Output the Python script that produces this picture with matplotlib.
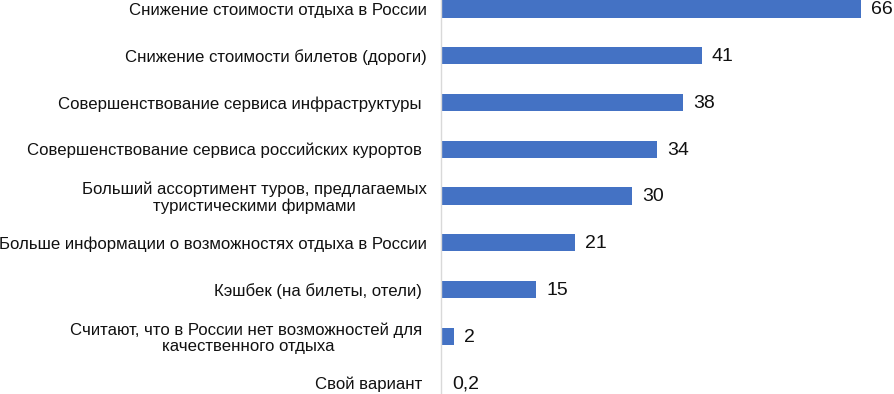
import matplotlib
matplotlib.use("Agg")
import matplotlib.pyplot as plt

plt.rcParams['font.family'] = ['Liberation Sans', 'DejaVu Sans']

categories = [
    "Снижение стоимости отдыха в России",
    "Снижение стоимости билетов (дороги)",
    "Совершенствование сервиса инфраструктуры ",
    "Совершенствование сервиса российских курортов ",
    "Больший ассортимент туров, предлагаемых\nтуристическими фирмами",
    "Больше информации о возможностях отдыха в России",
    "Кэшбек (на билеты, отели) ",
    "Считают, что в России нет возможностей для \nкачественного отдыха",
    "Свой вариант ",
]
values = [66, 41, 38, 34, 30, 21, 15, 2, 0.2]
value_labels = ["66", "41", "38", "34", "30", "21", "15", "2", "0,2"]

W, H = 894, 394
fig = plt.figure(figsize=(W / 100, H / 100), dpi=100)

step = 46.75
y0 = 9.0
top_px = y0 - step / 2
bot_px = y0 + step * (len(values) - 1) + step / 2
left_px = 441
xmax = 70
px_per_unit = 420 / 66
width_px = xmax * px_per_unit
ax = fig.add_axes([left_px / W, 1 - bot_px / H, width_px / W, (bot_px - top_px) / H])

ypos = list(range(len(values)))
ax.barh(ypos, values, height=0.37, color="#4472C4")
ax.set_xlim(0, xmax)
ax.set_ylim(len(values) - 0.5, -0.5)

for y, v, lab in zip(ypos, values, value_labels):
    ax.text(v + 10 / px_per_unit, y + 0.02, lab, va="center", ha="left", fontsize=14, color="#111111")

ax.set_yticks(ypos)
ax.set_yticklabels(categories, fontsize=12.1, color="#111111", multialignment="center",
                   linespacing=1.05)
ax.tick_params(axis="y", length=0, pad=10.5)
ax.set_xticks([])
for s in ["top", "right", "bottom"]:
    ax.spines[s].set_visible(False)
ax.spines["left"].set_color("#d9d9d9")
ax.spines["left"].set_linewidth(1)

fig.savefig("out.png", dpi=100)
